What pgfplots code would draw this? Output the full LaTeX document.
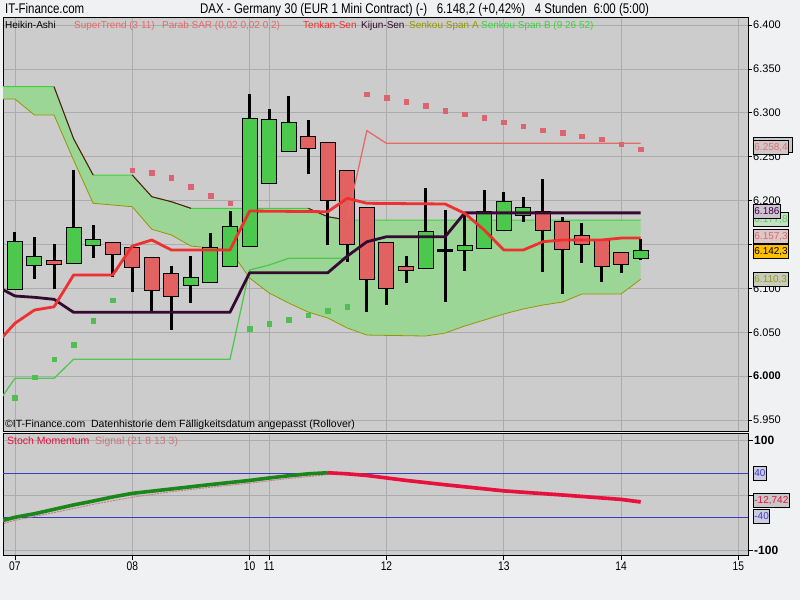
\documentclass[border=0pt]{standalone}
\usepackage{pgfplots}
\pgfplotsset{compat=1.18}
\usepackage{pgfplotstable}
\usepackage{fontspec}
\setmainfont{Liberation Sans}
\newfontfamily\narrowfont[FakeStretch=0.82]{Liberation Sans}

\definecolor{bgcol}{RGB}{240,241,243}
\definecolor{panel}{RGB}{204,204,204}
\definecolor{gridc}{RGB}{172,172,172}
\definecolor{upc}{RGB}{76,200,76}
\definecolor{downc}{RGB}{226,98,98}
\definecolor{tenkan}{RGB}{238,48,48}
\definecolor{kijun}{RGB}{52,10,48}
\definecolor{spana}{RGB}{150,150,0}
\definecolor{spanb}{RGB}{60,210,60}
\definecolor{spandark}{RGB}{90,20,20}
\definecolor{cloud}{RGB}{156,214,150}
\definecolor{stpink}{RGB}{230,105,105}
\definecolor{sarpink}{RGB}{220,100,112}
\definecolor{sargreen}{RGB}{80,190,80}
\definecolor{stgreen}{RGB}{80,200,80}
\definecolor{momgreen}{RGB}{25,135,25}
\definecolor{momred}{RGB}{232,16,60}
\definecolor{signalc}{RGB}{200,120,130}
\definecolor{bandblue}{RGB}{60,60,200}

% Heikin-Ashi candles: k o h l c
\pgfplotstableread{
k o h l c
0 6098.9 6164.5 6098.9 6152.4
1 6126.3 6158.5 6111.0 6135.4
3 6128.5 6234.5 6128.5 6168.4
4 6149.0 6171.8 6134.2 6155.1
9 6103.5 6136.8 6083.7 6111.4
10 6106.9 6162.7 6106.9 6145.6
11 6125.5 6188.1 6125.5 6170.2
12 6148.2 6321.4 6148.2 6292.6
13 6220.0 6304.3 6220.0 6291.4
14 6256.5 6319.1 6256.5 6288.0
21 6122.8 6214.0 6122.8 6163.8
23 6143.7 6185.8 6120.1 6148.2
24 6145.6 6212.0 6145.6 6187.3
25 6166.5 6209.4 6166.5 6198.7
26 6183.6 6204.4 6175.9 6191.2
32 6134.2 6155.9 6132.3 6142.3
}\upbars

\pgfplotstableread{
k o h l c
2 6130.8 6150.2 6099.6 6127.4
5 6151.3 6151.3 6112.6 6138.8
6 6145.6 6145.6 6096.2 6124.0
7 6134.2 6134.2 6073.4 6097.8
8 6116.0 6125.5 6052.6 6090.9
15 6272.1 6291.8 6230.6 6259.5
16 6265.2 6265.2 6149.7 6200.6
17 6233.7 6233.7 6130.0 6150.2
18 6191.2 6191.2 6072.7 6110.3
19 6151.3 6151.3 6080.7 6100.1
20 6124.7 6136.8 6106.4 6120.9
27 6187.3 6224.2 6119.0 6166.5
28 6175.9 6181.6 6093.2 6144.8
29 6160.0 6174.1 6128.5 6150.2
30 6155.1 6155.1 6106.9 6125.5
31 6139.9 6139.9 6117.1 6127.7
}\downbars

\pgfplotstableread{
k o h l c
22 6143.3 6189.2 6084.1 6143.3
}\dojibars

\pgfplotstableread{
k v
-0.7 6329.7
2 6329.7
3 6270.5
4 6229.1
6 6229.1
7 6204.4
8 6198.7
9 6191.2
15 6191.2
16 6181.6
17 6177.8
32 6177.8
}\spanB

\pgfplotstableread{
k v
-0.7 6315.7
0 6315.7
1 6297.5
2 6297.5
3 6246.2
4 6196.9
6 6193.0
7 6167.3
8 6160.8
9 6148.2
10 6146.0
11 6143.7
12 6111.8
13 6094.7
14 6083.3
15 6073.0
16 6066.2
17 6054.8
18 6046.8
21 6045.7
22 6049.1
23 6057.1
24 6063.9
25 6070.8
26 6076.5
27 6081.0
28 6084.4
29 6093.6
31 6093.6
32 6110.3
}\spanA

\pgfplotstableread{
k v
-0.7 6043.0
0 6060.2
1 6075.3
2 6079.0
3 6115.2
5 6115.2
6 6148.2
7 6155.1
8 6143.7
11 6143.7
12 6188.1
16 6187.3
17 6202.6
18 6196.9
22 6196.1
23 6185.5
24 6166.5
25 6143.7
26 6143.7
27 6153.1
28 6155.1
30 6155.1
31 6157.3
32 6157.3
}\tenkan

\pgfplotstableread{
k v
-0.7 6099.5
0 6091.3
1 6089.8
2 6087.5
3 6072.7
11 6072.7
12 6117.8
16 6117.8
17 6136.8
18 6153.1
19 6158.8
22 6158.8
23 6186.0
32 6186.0
}\kijun

\pgfplotstableread{
k v
-0.7 5975.0
0 5997.5
2 5997.5
3 6019.2
11 6019.2
12 6120.9
13 6126.6
14 6134.2
17 6134.2
}\stup

\pgfplotstableread{
k v
17 6180.0
18 6279.6
19 6265.2
32 6265.2
}\stdown

\pgfplotstableread{
k v
0 5975.4
1 5998.8
2 6019.3
3 6035.5
4 6062.9
5 6086.7
12 6053.7
13 6059.4
14 6064.0
15 6069.6
16 6074.5
17 6079.1
}\sarup

\pgfplotstableread{
k v
6 6234.8
7 6231.7
8 6226.0
9 6215.8
10 6205.5
11 6196.9
18 6321.4
19 6317.2
20 6312.6
21 6308.1
22 6302.4
23 6298.3
24 6294.1
25 6289.5
26 6284.9
27 6280.4
28 6277.0
29 6273.5
30 6270.1
31 6264.4
32 6258.4
}\sardown

% Stoch Momentum
\pgfplotstableread{
k v
-0.7 -47
0 -40.5
1 -34
2 -26
3 -18
4 -11
5 -3.5
6 3
8 11
10 19
12 26.5
13 31
14 35
15 38.5
16 40.5
}\momup

\pgfplotstableread{
k v
16 40.5
17 38.5
18 35.5
19 31
20 26.5
22 18.6
25 7.5
28 0
31 -8
32 -12.742
}\momdown

\pgfplotstableread{
k v
-0.7 -53
0 -46
2 -32
4 -17
6 -4
8 6
10 14
12 21.5
14 30
16 37
17 38.5
18 37
20 29
22 21
25 10
28 2.5
31 -5.5
32 -9.5
}\signal

\pgfplotsset{
  panelaxis/.style={
    scale only axis, width=745pt,
    xmin=-0.61, xmax=37.49,
    axis background/.style={fill=panel},
    axis line style={black, line width=1pt},
    grid=major, major grid style={gridc, line width=0.7pt},
    xtick={0,6,12,13,19,25,31,37},
    tick align=outside, major tick length=4pt,
    ytick pos=right, xtick pos=bottom,
    tick style={black, line width=0.8pt},
    yticklabel style={font=\fontsize{11}{11}\selectfont, inner sep=1pt},
    clip=true,
  },
  wick/.style={draw=none, mark=none, forget plot,
    error bars/.cd, y dir=both, y explicit, error mark=none,
    error bar style={draw=black, line width=3pt, solid}},
  body/.style={draw=none, mark=none, forget plot,
    error bars/.cd, y dir=both, y explicit, error mark=none,
    error bar style={line width=#1}},
}

\newcommand\candleset[2]{%
  \addplot[wick] table[x=k, y expr={(\thisrow{h}+\thisrow{l})/2},
    y error expr={(\thisrow{h}-\thisrow{l})/2}] {#1};
  \addplot[body={16pt, draw=black, solid}] table[x=k, y expr={(\thisrow{o}+\thisrow{c})/2},
    y error expr={abs(\thisrow{c}-\thisrow{o})/2+1.2}] {#1};
  \addplot[body={14pt, draw=#2, solid}] table[x=k, y expr={(\thisrow{o}+\thisrow{c})/2},
    y error expr={abs(\thisrow{c}-\thisrow{o})/2}] {#1};
}

\begin{document}
\begin{tikzpicture}[x=1pt, y=1pt]
\fill[bgcol] (0,0) rectangle (800,600);

% ---------- main price panel ----------
\begin{axis}[panelaxis,
    at={(3pt,169pt)}, anchor=south west, height=413pt,
    ymin=5937.5, ymax=6408,
    ytick={5950,6000,6050,6100,6150,6200,6250,6300,6350,6400},
    yticklabels={5.950,\textbf{6.000},6.050,6.100,6.150,6.200,6.250,6.300,6.350,6.400},
    xticklabels={}, xtick style={draw=none}]

  % Ichimoku cloud: Senkou Span A forward, Span B back
  \addplot[fill=cloud, draw=none, forget plot] coordinates {
    (-0.7,6315.7) (0,6315.7) (1,6297.5) (2,6297.5) (3,6246.2) (4,6196.9)
    (6,6193.0) (7,6167.3) (8,6160.8) (9,6148.2) (10,6146.0) (11,6143.7)
    (12,6111.8) (13,6094.7) (14,6083.3) (15,6073.0) (16,6066.2) (17,6054.8)
    (18,6046.8) (21,6045.7) (22,6049.1) (23,6057.1) (24,6063.9) (25,6070.8)
    (26,6076.5) (27,6081.0) (28,6084.4) (29,6093.6) (31,6093.6) (32,6110.3)
    (32,6177.8) (17,6177.8) (16,6181.6) (15,6191.2) (9,6191.2) (8,6198.7)
    (7,6204.4) (6,6229.1) (4,6229.1) (3,6270.5) (2,6329.7) (-0.7,6329.7)};
  \addplot[spanb, line width=1pt] table[x=k, y=v] {\spanB};
  \addplot[spana, line width=0.8pt] table[x=k, y=v] {\spanA};
  \addplot[spandark, line width=1pt, unbounded coords=jump] coordinates {
    (2,6329.7) (3,6270.5) (4,6229.1) (5,nan)
    (6,6229.1) (7,6204.4) (8,6198.7) (9,6191.2) (10,nan)
    (15,6191.2) (16,6181.6) (17,6177.8)};

  \addplot[only marks, mark=square*, mark size=2.3pt, sargreen] table[x=k, y=v] {\sarup};
  \addplot[only marks, mark=square*, mark size=2.3pt, sarpink] table[x=k, y=v] {\sardown};

  \candleset{\upbars}{upc}
  \candleset{\downbars}{downc}
  \addplot[wick] table[x=k, y expr={(\thisrow{h}+\thisrow{l})/2},
    y error expr={(\thisrow{h}-\thisrow{l})/2}] {\dojibars};
  \addplot[body={16pt, draw=black, solid}] table[x=k, y=o, y error expr={1.6}] {\dojibars};

  \addplot[stgreen, line width=1.3pt] table[x=k, y=v] {\stup};
  \addplot[stpink, line width=1.3pt] table[x=k, y=v] {\stdown};
  \addplot[kijun, line width=2.8pt, line join=round] table[x=k, y=v] {\kijun};
  \addplot[tenkan, line width=2.8pt, line join=round] table[x=k, y=v] {\tenkan};
\end{axis}

% ---------- stoch momentum panel ----------
\begin{axis}[panelaxis,
    at={(3pt,45pt)}, anchor=south west, height=122pt,
    ymin=-109, ymax=112.7,
    ytick={-100,0,100},
    yticklabels={\textbf{-100},{},\textbf{100}},
    yticklabel style={font=\fontsize{12}{12}\selectfont},
    xticklabels={07,08,10,11,12,13,14,15},
    xticklabel style={font=\narrowfont\fontsize{12.5}{12.5}\selectfont, inner sep=2pt},
    major tick length=5pt]
  \addplot[bandblue, line width=0.8pt] coordinates {(-1,40) (38,40)};
  \addplot[bandblue, line width=0.8pt] coordinates {(-1,-40) (38,-40)};
  \addplot[signalc, line width=0.9pt, dashed, dash pattern=on 2pt off 1pt] table[x=k, y=v] {\signal};
  \addplot[momgreen, line width=3.6pt, line join=round] table[x=k, y=v] {\momup};
  \addplot[momred, line width=3.6pt, line join=round] table[x=k, y=v] {\momdown};
\end{axis}

% ---------- header and captions ----------
\node[anchor=base west, inner sep=0, font=\narrowfont\fontsize{14}{14}\selectfont] at (5,586) {IT-Finance.com};
\node[anchor=base west, inner sep=0, font=\narrowfont\fontsize{14}{14}\selectfont] at (200,586)
  {DAX - Germany 30 (EUR 1 Mini Contract) (-)\ \ \ 6.148,2 (+0,42\%)\ \ \ 4 Stunden\ \ 6:00 (5:00)};

\begin{scope}[every node/.style={anchor=base west, inner sep=0, font=\fontsize{10}{10}\selectfont}]
\node at (5,571) {Heikin-Ashi};
\node[text=stpink] at (74,571) {SuperTrend (3 11)};
\node[text=stpink] at (162,571) {Parab SAR (0,02 0,02 0,2)};
\node[text=tenkan] at (303,571) {Tenkan-Sen};
\node[text=kijun] at (361,571) {Kijun-Sen};
\node[text=spana] at (409,571) {Senkou Span A};
\node[text=spanb] at (481,571) {Senkou Span B (9 26 52)};
\end{scope}
\begin{scope}[every node/.style={anchor=base west, inner sep=0, font=\fontsize{10.5}{10.5}\selectfont}]
\node at (5,172) {\textcopyright IT-Finance.com\ \ Datenhistorie dem Fälligkeitsdatum angepasst (Rollover)};
\node[text=momred] at (7,156) {Stoch Momentum};
\node[text=signalc] at (95,156) {Signal (21 8 13 3)};
\end{scope}

% ---------- last-value boxes ----------
\begin{scope}[every node/.style={anchor=west, draw=black, line width=0.8pt, inner xsep=1pt, inner ysep=1.5pt,
    font=\fontsize{10}{10}\selectfont, minimum height=14pt, text depth=0pt}]
\node[fill={rgb,255:red,200;green,200;blue,200}, text width=37pt, minimum height=15pt] at (753,455) {};
\node[fill={rgb,255:red,208;green,200;blue,200}, text={rgb,255:red,225;green,110;blue,110}] at (753,453) {6.258,4};
\node[fill={rgb,255:red,195;green,225;blue,195}, text={rgb,255:red,90;green,200;blue,90}] at (753,380.5) {6.177,8};
\node[fill={rgb,255:red,205;green,195;blue,210}, text={rgb,255:red,60;green,0;blue,60}] at (753,388.5) {6.186};
\node[fill={rgb,255:red,220;green,200;blue,200}, text={rgb,255:red,225;green,100;blue,100}] at (753,364) {6.157,3};
\node[fill={rgb,255:red,255;green,192;blue,0}, text=black] at (753,349) {6.142,3};
\node[fill={rgb,255:red,200;green,205;blue,185}, text={rgb,255:red,150;green,150;blue,40}] at (753,320.5) {6.110,3};
\node[fill={rgb,255:red,205;green,205;blue,225}, text=bandblue] at (753,127) {40};
\node[fill={rgb,255:red,200;green,200;blue,200}, text=momred] at (753,99.5) {-12,742};
\node[fill={rgb,255:red,205;green,205;blue,225}, text=bandblue] at (753,83.5) {-40};
\end{scope}

\pgfresetboundingbox
\path[use as bounding box] (0,0) rectangle (800,600);
\end{tikzpicture}
\end{document}
